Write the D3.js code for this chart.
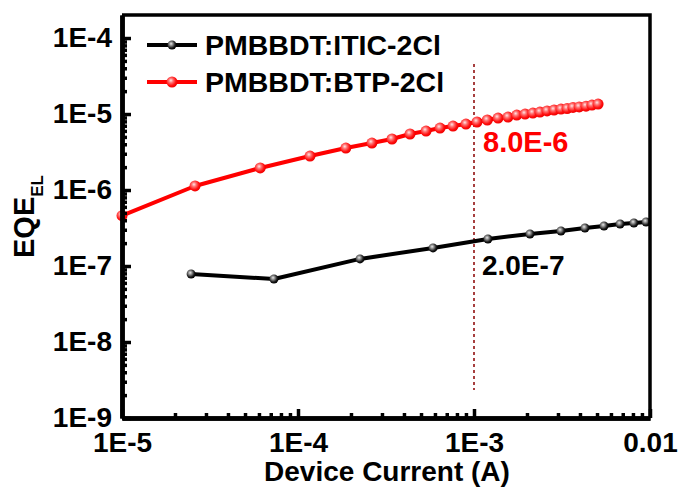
<!DOCTYPE html>
<html>
<head>
<meta charset="utf-8">
<script src="https://cdn.jsdelivr.net/npm/d3@7"></script>
<style>
  body { margin: 0; background: #fff; }
  svg text { font-family: "Liberation Sans", Arial, sans-serif; font-weight: bold; }
  .axis .domain { stroke: #000; stroke-width: 4.5px; }
  .axis .tick line { stroke: #000; stroke-width: 3.5px; }
</style>
</head>
<body>
<svg id="chart" width="682" height="491"></svg>
<script>
// Device current (A) and EQE_EL
const currentBTP = [1e-5, 2.6e-5, 6.1e-5, 1.17e-4, 1.87e-4, 2.63e-4, 3.42e-4, 4.33e-4, 5.34e-4, 6.41e-4,
  7.6e-4, 9.0e-4, 1.04e-3, 1.19e-3, 1.37e-3, 1.56e-3, 1.75e-3, 1.95e-3, 2.16e-3, 2.37e-3,
  2.6e-3, 2.85e-3, 3.12e-3, 3.38e-3, 3.65e-3, 3.96e-3, 4.33e-3, 4.68e-3, 5.07e-3]
const eqeBTP = [4.6e-7, 1.13e-6, 1.95e-6, 2.8e-6, 3.57e-6, 4.15e-6, 4.69e-6, 5.46e-6, 5.97e-6, 6.54e-6,
  6.95e-6, 7.38e-6, 7.85e-6, 8.34e-6, 8.86e-6, 9.13e-6, 9.7e-6, 1.0e-5, 1.03e-5, 1.06e-5,
  1.1e-5, 1.13e-5, 1.16e-5, 1.18e-5, 1.22e-5, 1.24e-5, 1.27e-5, 1.31e-5, 1.35e-5]

const currentITIC = [2.47e-5, 7.3e-5, 2.25e-4, 5.85e-4, 1.2e-3, 2.08e-3, 3.12e-3, 4.27e-3, 5.48e-3, 6.76e-3, 8.1e-3, 9.5e-3]
const eqeITIC = [7.85e-8, 6.75e-8, 1.24e-7, 1.73e-7, 2.27e-7, 2.64e-7, 2.89e-7, 3.16e-7, 3.36e-7, 3.57e-7, 3.68e-7, 3.8e-7]

const seriesNames = ['PMBBDT:ITIC-2Cl', 'PMBBDT:BTP-2Cl']
const xTicks = [1e-5, 1e-4, 1e-3, 1e-2]
const xTickLabels = ['1E-5', '1E-4', '1E-3', '0.01']
const yTicks = [1e-9, 1e-8, 1e-7, 1e-6, 1e-5, 1e-4]
const yTickLabels = ['1E-9', '1E-8', '1E-7', '1E-6', '1E-5', '1E-4']
const markCurrent = 1e-3
const markLabels = ['8.0E-6', '2.0E-7']

const margin = { top: 15, right: 32, bottom: 73, left: 122 }
const width = 682 - margin.left - margin.right
const height = 491 - margin.top - margin.bottom

const svg = d3.select('#chart')
const defs = svg.append('defs')
const g = svg.append('g').attr('transform', `translate(${margin.left},${margin.top})`)

const x = d3.scaleLog().domain([1e-5, 1e-2]).range([0, width])
const y = d3.scaleLog().domain([1e-9, Math.pow(10, -3.697)]).range([height, 0])

// sphere-like marker gradients
function ball (id, stops) {
  const grad = defs.append('radialGradient').attr('id', id)
    .attr('cx', '0.4').attr('cy', '0.4').attr('r', '0.6').attr('fx', '0.4').attr('fy', '0.35')
  stops.forEach(s => grad.append('stop').attr('offset', s[0]).attr('stop-color', s[1]))
}
ball('ballBlack', [[0, '#e8e8e8'], [0.35, '#8a8a8a'], [0.75, '#1a1a1a'], [1, '#000']])
ball('ballRed', [[0, '#ffe6e6'], [0.35, '#ff7070'], [0.75, '#ff1010'], [1, '#f00000']])

// minor ticks for log decades
function minors (lo, hi) {
  const out = []
  for (let e = lo; e < hi; e++) {
    for (let k = 2; k <= 9; k++) out.push(k * Math.pow(10, e))
  }
  return out
}

// dashed marker line at 1 mA
g.append('line')
  .attr('x1', x(markCurrent)).attr('x2', x(markCurrent))
  .attr('y1', 49).attr('y2', 375)
  .attr('stroke', '#8b0000').attr('stroke-width', 1.5).attr('stroke-dasharray', '3,3')

const plot = g.append('g')
const lineGen = d3.line().x(d => x(d[0])).y(d => y(d[1]))

function drawSeries (xs, ys, color, fill, r) {
  const pts = xs.map((v, i) => [v, ys[i]])
  plot.append('path').datum(pts)
    .attr('d', lineGen).attr('fill', 'none')
    .attr('stroke', color).attr('stroke-width', 4).attr('stroke-linejoin', 'round')
  plot.selectAll(null).data(pts).enter().append('circle')
    .attr('cx', d => x(d[0])).attr('cy', d => y(d[1])).attr('r', r)
    .attr('fill', fill)
}
drawSeries(currentITIC, eqeITIC, '#000', 'url(#ballBlack)', 4.5)
drawSeries(currentBTP, eqeBTP, '#ff0000', 'url(#ballRed)', 5.5)

// axis titles
g.append('text')
  .attr('x', 265).attr('y', 481 - margin.top)
  .attr('text-anchor', 'middle').attr('font-size', 28)
  .text('Device Current (A)')

const yTitle = svg.append('text')
  .attr('transform', 'translate(34,258) rotate(-90)')
  .attr('font-size', 29)
yTitle.append('tspan').text('EQE')
yTitle.append('tspan').attr('font-size', 17).attr('dy', 9).text('EL')

// annotations at 1 mA
g.append('text').attr('x', x(markCurrent) + 9).attr('y', 152 - margin.top)
  .attr('font-size', 29).attr('fill', '#ff0000')
  .text(markLabels[0])
g.append('text').attr('x', x(markCurrent) + 8).attr('y', 275 - margin.top)
  .attr('font-size', 28).attr('fill', '#000')
  .text(markLabels[1])

// legend
const legend = g.append('g')
const legendItems = [
  { name: seriesNames[0], color: '#000', fill: 'url(#ballBlack)', r: 4.5, y: 45 - margin.top },
  { name: seriesNames[1], color: '#ff0000', fill: 'url(#ballRed)', r: 5.5, y: 82 - margin.top }
]
legendItems.forEach(item => {
  legend.append('line')
    .attr('x1', 147 - margin.left).attr('x2', 197 - margin.left)
    .attr('y1', item.y).attr('y2', item.y)
    .attr('stroke', item.color).attr('stroke-width', 4)
  legend.append('circle')
    .attr('cx', 172 - margin.left).attr('cy', item.y).attr('r', item.r).attr('fill', item.fill)
  legend.append('text')
    .attr('x', 205 - margin.left).attr('y', item.y + 10)
    .attr('font-size', 28.5)
    .text(item.name)
})

// axes with inward ticks, drawn last so they sit on top
g.append('g').attr('class', 'axis').attr('transform', `translate(0,${height})`)
  .call(d3.axisBottom(x).tickValues(minors(-5, -2)).tickSizeInner(-5).tickSizeOuter(0).tickFormat(''))
const xAxis = g.append('g').attr('class', 'axis').attr('transform', `translate(0,${height})`)
  .call(d3.axisBottom(x).tickValues(xTicks).tickSizeInner(-9).tickSizeOuter(0).tickPadding(14)
    .tickFormat((d, i) => xTickLabels[i]))
g.append('g').attr('class', 'axis')
  .call(d3.axisLeft(y).tickValues(minors(-9, -4)).tickSizeInner(-5).tickSizeOuter(0).tickFormat(''))
const yAxis = g.append('g').attr('class', 'axis')
  .call(d3.axisLeft(y).tickValues(yTicks).tickSizeInner(-9).tickSizeOuter(0).tickPadding(10)
    .tickFormat((d, i) => yTickLabels[i]))

g.selectAll('.axis .domain').attr('stroke', '#000').attr('stroke-width', 4.5)
g.selectAll('.axis .tick line').attr('stroke', '#000').attr('stroke-width', 3.5)
xAxis.selectAll('text').attr('font-size', 28).attr('fill', '#000')
yAxis.selectAll('text').attr('font-size', 28).attr('fill', '#000')

// frame: top and right
g.append('path')
  .attr('d', `M0,0H${width}V${height}`)
  .attr('fill', 'none').attr('stroke', '#000').attr('stroke-width', 3.5)
</script>
</body>
</html>
